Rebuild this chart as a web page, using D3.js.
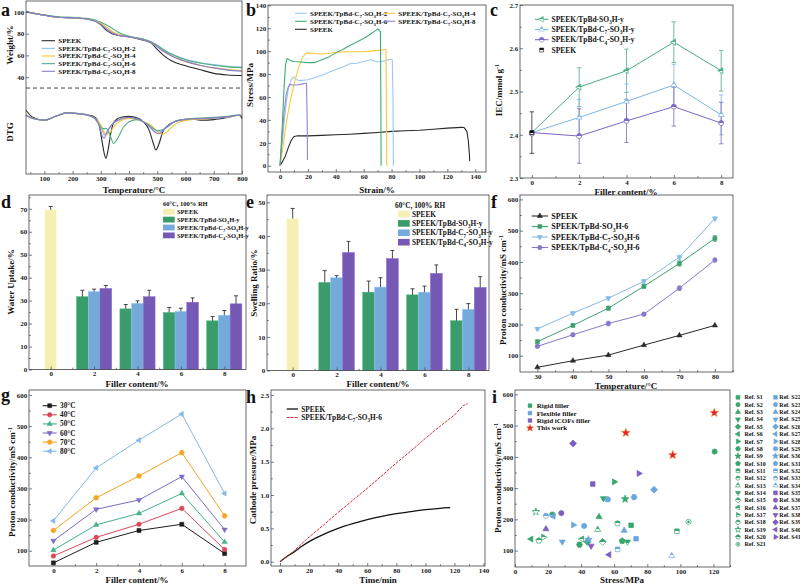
<!DOCTYPE html>
<html><head><meta charset="utf-8">
<script src="https://cdn.jsdelivr.net/npm/d3@7"></script>
<style>body{margin:0;background:#fff}svg{display:block}</style>
</head><body><script>
// ================= DATA =================
// (a) TGA / DTG
const tgaTemp=[35,100,150,200,250,280,300,320,340,360,400,450,480,500,520,550,600,650,700,750,800];
const tgaSPEEK=[100,97,95,94.5,93.5,91.5,88,83,80,78.5,77,74,71,65.5,60.5,55,50.5,47,43.5,42,41.5];
const tgaC7_2=[100,97,95,94.5,93.5,92,89,85,81.5,79.5,77.5,75,72.5,69.5,66,61.5,56.5,53.5,51.5,50,49.3];
const tgaC7_4=[100,97,95,94.5,93.5,92,89.5,86,82,79.5,77,74.5,71.5,68.5,64.5,60,54.5,51,48.5,47,46];
const tgaC7_6=[100,97,95.5,95,94,92.5,90.5,88,85,81.5,77.5,75,72,69,65.5,61,56,53,51,49.5,48.8];
const tgaC7_8=[100,97,95,94.5,93.5,91.5,88.5,84,80.5,78.5,77,74.5,71.5,68,64,59.5,54.5,51,48.5,46.5,45.5];
const dtgTemp=[35,60,100,140,180,220,260,280,295,305,312,318,325,335,345,360,380,400,430,450,470,485,495,505,520,540,560,580,620,660,700,750,790,800];
const dtgSPEEK=[9.6,3,0.5,4,7.2,6.5,5,3,-5,-20,-30,-34.7,-28,-12,-2,2,3.5,4,2.5,-1,-8,-20,-27,-22,-10,-4,-1,0.5,1.5,0.5,1,3,5,2];
const dtgC7_2=[5,2,0.5,4,7.2,6.5,4.5,2,-3,-9,-13,-12,-9,-5,-2,0,1.5,2.5,1.5,-1,-4,-7,-9,-10,-9,-5,-1,0.5,1.5,2,2.5,3.5,5,4];
const dtgC7_4=[5,2,0.5,4,7,6.5,4.5,2,-2,-7,-11,-12.5,-12,-10,-6,-2,1,2,1,-1,-3,-6,-9,-11,-12.5,-9,-4,-1,1,1.5,2.5,3.5,5,4];
const dtgC7_6=[5,2,0.5,4,7.2,6.5,4.5,1.5,-4,-7,-7.5,-7,-9,-15,-21,-16,-6,-1,1,-1,-4,-7,-8.5,-9,-8,-5,-1,0.5,2,2.5,3,4,5.5,4.5];
const dtgC7_8=[5,2,0.5,4,7.2,6.5,4.5,2,-5,-14,-16,-13,-9,-5,-2,0.5,2.5,3,1.5,-1,-5,-9,-11,-12,-9,-4,-1,0.5,1.5,2,2.5,3.5,5,4];
const tgaLabels=["SPEEK","SPEEK/TpBd-C_7-SO_3H-2","SPEEK/TpBd-C_7-SO_3H-4","SPEEK/TpBd-C_7-SO_3H-6","SPEEK/TpBd-C_7-SO_3H-8"];

// (b) stress-strain
const bStrainC7_2=[0,1.5,3,4.5,6,8,9.5,11,13,16,20,25,30,35,40,45,50,55,60,65,70,75,79,80.5,81,81.3];
const bStressC7_2=[0,18,38,55,67,75,77.5,76,74.5,74.5,75,77,79,81.5,84,86,89,89.5,91,92.5,90.5,91.5,93,92.5,60,0];
const bStrainC7_4=[0,2,4,6,8,10,12,14,16,18,20,25,30,35,40,50,60,65,70,75,76,76.3,76.5];
const bStressC7_4=[0,15,33,48,60,71,80,88,94,97.5,98.5,98,97.5,98,99,99.5,99.5,100,100.5,101.5,101.5,50,0];
const bStrainC7_6=[0,1,2,3,4,5,6,8,10,15,20,25,30,35,40,45,50,55,60,65,68,70,71,72,72.3,72.5];
const bStressC7_6=[0,20,45,70,88,93.5,93,91.5,91,90.5,90,90,92.5,95,98.5,101.5,105,108,111,115,117.5,119.5,118.5,117,60,0];
const bStrainC7_8=[0,1.5,3,4.5,6,7,9,12,15,18,19,19.5,19.7];
const bStressC7_8=[0,25,48,62,69,71,70.5,70.5,71,72,72,40,5];
const bStrainSPEEK=[0,2,4,6,8,10,12,20,30,40,50,60,70,80,90,100,110,120,130,132,134,135,135.8,136];
const bStressSPEEK=[0,4,9,16,22,25.5,26,26,26.5,27,27.5,28.2,29,30,30.5,31,31.8,32.8,33.5,33.3,30,22,10,4];

// (c) IEC
const iecFiller=[0,2,4,6,8];
const iecSO3H=[2.405,2.51,2.548,2.614,2.548];
const iecSO3HErr=[0.048,0.045,0.05,0.047,0.047];
const iecC7=[2.405,2.44,2.477,2.515,2.446];
const iecC7Err=[0.048,0.042,0.04,0.048,0.046];
const iecC4=[2.405,2.397,2.432,2.465,2.427];
const iecC4Err=[0.048,0.063,0.05,0.045,0.048];
const iecSPEEK=2.405, iecSPEEKErr=0.048;
const seriesY=["SPEEK/TpBd-SO_3H-y","SPEEK/TpBd-C_7-SO_3H-y","SPEEK/TpBd-C_4-SO_3H-y","SPEEK"];

// (d) water uptake, (e) swelling ratio
const fillerCats=[2,4,6,8];
const wuSPEEK=69.5, wuSPEEKErr=1.5;
const wuSO3H=[31.7,26.4,24.8,21.2], wuSO3HErr=[2.8,1.9,2.2,1.9];
const wuC7=[33.9,28.8,25.3,23.6], wuC7Err=[1.1,1.1,1.4,2.1];
const wuC4=[35.3,31.7,29.3,28.6], wuC4Err=[1.3,2.8,1.9,3.5];
const srSPEEK=45.2, srSPEEKErr=3.0;
const srSO3H=[26.2,23.3,22.5,14.8], srSO3HErr=[3.5,3.3,1.8,3.4];
const srC7=[27.6,24.8,23.3,18.2], srC7Err=[0.6,2.8,1.8,1.7];
const srC4=[35.1,33.3,28.9,24.7], srC4Err=[3.3,2.4,2.5,3.2];

// (f) conductivity vs temperature
const fTemp=[30,40,50,60,70,80];
const fSPEEK=[63,84,102,134,165,197];
const fSO3H6=[145,197,252,322,395,475], fSO3H6Err=[4,5,6,6,8,9];
const fC7_6=[186,236,284,338,415,539], fC7_6Err=[4,5,5,6,6,5];
const fC4_6=[130,167,203,233,316,406], fC4_6Err=[4,5,7,5,7,6];
const fLabels=["SPEEK","SPEEK/TpBd-SO_3H-6","SPEEK/TpBd-C_7-SO_3H-6","SPEEK/TpBd-C_4-SO_3H-6"];

// (g) conductivity vs filler content
const gFiller=[0,2,4,6,8];
const g30=[61,127,165,185,91];
const g40=[83,143,185,236,104];
const g50=[102,183,220,284,128];
const g60=[132,233,263,338,168];
const g70=[165,270,340,415,212];
const g80=[196,366,455,539,284];
const gLabels=["30°C","40°C","50°C","60°C","70°C","80°C"];

// (h) cathode pressure
const hTimeSPEEK=[0,5,10,15,20,30,40,50,60,70,80,90,100,110,117];
const hSPEEK=[0,0.08,0.15,0.23,0.3,0.41,0.5,0.57,0.63,0.68,0.72,0.75,0.78,0.8,0.81];
const hTimeC7=[0,10,20,30,40,50,60,70,80,90,100,110,120,126,129];
const hC7=[0,0.17,0.37,0.55,0.74,0.92,1.1,1.29,1.48,1.66,1.85,2.03,2.2,2.34,2.37];

// (i) comparison
const refStress=[70.2,120.7,50.8,53.5,43.8,9.7,60,39,66.6,64.8,97.9,62,50,68,53,40.4,17.2,22.6,12.6,14.4,104.9,73.2,41.8,66,28.6,84.1,23.2,35.3,72,44.4,56.1,62,18.7,94.8,47,28,18.7,46,35.1,56.9,74.9];
const refCond=[181,417,208,267,128,137,320,119,265,131,162,187,167,128,128,137,143,215,224,132,192,138,179,164,128,295,210,182,271,135,264,104,211,83,313,220,169,115,443,87,347];
const workStress=[67,95.4,120.5];
const workCond=[477,406,541];
const iLegend=["Rigid filler","Flexible filler","Rigid iCOFs filler","This work"];

// ================= DRAWING =================
const svg=d3.select("body").append("svg").attr("width",800).attr("height",584)
  .attr("font-family","'Liberation Serif','Times New Roman',serif").attr("font-weight","bold");
const defs=svg.append("defs");
const FT=7, FTI=9, FL=7;

function halfGrad(id,color){
  const g=defs.append("linearGradient").attr("id",id).attr("x1",0).attr("y1",0).attr("x2",0).attr("y2",1);
  [[0,color],[0.5,color],[0.5,"#fff"],[1,"#fff"]].forEach(([o,c])=>g.append("stop").attr("offset",o).attr("stop-color",c));
  return `url(#${id})`;
}
function rich(t,str,fs){
  const re=/([_^])(?:\{([^}]*)\}|(.))/g; let last=0,cur=0,m;
  const add=(s,off,small)=>{if(!s)return;const ts=t.append("tspan").text(s);const dy=off-cur;if(dy)ts.attr("dy",dy);cur=off;if(small)ts.attr("font-size",fs*0.7);};
  while((m=re.exec(str))){add(str.slice(last,m.index),0,false);add(m[2]!==undefined?m[2]:m[3],m[1]==="_"?fs*0.3:-fs*0.4,true);last=re.lastIndex;}
  add(str.slice(last),0,false);return t;
}
function txt(x,y,str,fs,o={}){
  const t=svg.append("text").attr("x",x).attr("y",y).attr("font-size",fs).attr("fill",o.fill||"#111").attr("text-anchor",o.anchor||"start");
  if(o.rot)t.attr("transform",`rotate(${o.rot},${x},${y})`);
  return rich(t,str,fs);
}
function ytitle(cx,cy,str){txt(cx+FTI*0.35,cy,str,FTI,{anchor:"middle",rot:-90});}
function xtitle(cx,cy,str){txt(cx,cy+FTI*0.35,str,FTI,{anchor:"middle"});}
function letter(x,y,s){txt(x,y,s,18);}

function poly(n,r,a0){const pts=d3.range(n).map(i=>{const a=(a0+i*360/n)*Math.PI/180;return [r*Math.cos(a),r*Math.sin(a)];});return "M"+pts.map(p=>p[0].toFixed(2)+","+p[1].toFixed(2)).join("L")+"Z";}
function starP(r){const pts=d3.range(10).map(i=>{const rr=i%2?r*0.42:r;const a=(-90+i*36)*Math.PI/180;return [rr*Math.cos(a),rr*Math.sin(a)];});return "M"+pts.map(p=>p[0].toFixed(2)+","+p[1].toFixed(2)).join("L")+"Z";}
function shapePath(s,r){
  switch(s){
    case "circle":return `M${r},0A${r},${r} 0 1,1 ${-r},0A${r},${r} 0 1,1 ${r},0Z`;
    case "square":return poly(4,r*1.25,45);
    case "diamond":return poly(4,r*1.35,-90);
    case "triUp":return poly(3,r*1.35,-90);
    case "triDown":return poly(3,r*1.35,90);
    case "triLeft":return poly(3,r*1.35,180);
    case "triRight":return poly(3,r*1.35,0);
    case "hexagon":return poly(6,r*1.15,0);
    case "pentagon":return poly(5,r*1.2,-90);
    case "star":return starP(r*1.55);
  }
}
function mark(parent,shape,cx,cy,r,fill,stroke,sw){
  return parent.append("path").attr("d",shapePath(shape,r)).attr("transform",`translate(${cx},${cy})`)
    .attr("fill",fill).attr("stroke",stroke||"none").attr("stroke-width",sw||0.6);
}
function panel(o){
  const x=d3.scaleLinear().domain(o.xd).range([o.x0,o.x1]);
  const y=d3.scaleLinear().domain(o.yd).range([o.y1,o.y0]);
  const g=svg.append("g");
  const plot=g.append("g");
  const ax=g.append("g").attr("transform",`translate(0,${o.y1})`)
    .call(d3.axisBottom(x).tickValues(o.xt).tickSize(-3).tickPadding(2).tickFormat(o.xf||d3.format("d")));
  const ay=g.append("g").attr("transform",`translate(${o.x0},0)`)
    .call(d3.axisLeft(y).tickValues(o.yt).tickSize(-3).tickPadding(1.8).tickFormat(o.yf||d3.format("d")));
  if(o.xm)g.append("g").attr("transform",`translate(0,${o.y1})`).call(d3.axisBottom(x).tickValues(o.xm).tickSize(-1.8).tickFormat(""));
  if(o.ym)g.append("g").attr("transform",`translate(${o.x0},0)`).call(d3.axisLeft(y).tickValues(o.ym).tickSize(-1.8).tickFormat(""));
  g.selectAll(".domain").remove();
  g.selectAll(".tick line").attr("stroke","#444").attr("stroke-width",0.7);
  g.selectAll("g").attr("font-family",null).attr("font-size",FT);
  g.selectAll(".tick text").attr("fill","#222");
  g.append("rect").attr("x",o.x0).attr("y",o.y0).attr("width",o.x1-o.x0).attr("height",o.y1-o.y0)
    .attr("fill","none").attr("stroke","#444").attr("stroke-width",0.8);
  return {x,y,plot,g};
}
function path(p,xs,ys,color,w,o={}){
  const l=d3.line().x((d,i)=>p.x(xs[i])).y(d=>p.y(d));
  if(o.curve)l.curve(o.curve);
  const e=p.plot.append("path").attr("d",l(ys)).attr("fill","none").attr("stroke",color).attr("stroke-width",w).attr("stroke-linejoin","round");
  if(o.dash)e.attr("stroke-dasharray",o.dash);
  return e;
}
function legLine(x1,x2,y,color,label,fs,o={}){
  const l=svg.append("line").attr("x1",x1).attr("x2",x2).attr("y1",y).attr("y2",y).attr("stroke",color).attr("stroke-width",o.w||1.1);
  if(o.dash)l.attr("stroke-dasharray",o.dash);
  if(o.noline)l.remove();
  if(o.shape)mark(svg,o.shape,(x1+x2)/2,y,o.r||2.3,o.fill||color,o.stroke||color,0.6);
  txt(x2+(o.gap||3.3),y+fs*0.35,label,fs);
}

// ---------- (a) ----------
const cBlack="#2a2a2a", cBlue="#8fc1ea", cOrange="#f7c233", cGreen="#4fb080", cPurple="#8a7bcb";
const pa=panel({x0:26,x1:242,y0:1,y1:174,xd:[35,800],yd:[-49,110],xt:d3.range(100,801,100),yt:[40,60,80,100],xm:d3.range(50,801,100)});
pa.plot.append("line").attr("x1",26).attr("x2",242).attr("y1",pa.y(30)).attr("y2",pa.y(30)).attr("stroke","#444").attr("stroke-width",1).attr("stroke-dasharray","4,3");
const aCols=[cBlack,cBlue,cOrange,cGreen,cPurple];
[tgaSPEEK,tgaC7_2,tgaC7_4,tgaC7_6,tgaC7_8].forEach((s,i)=>path(pa,tgaTemp,s,aCols[i],1.1,{curve:d3.curveMonotoneX}));
[dtgSPEEK,dtgC7_2,dtgC7_4,dtgC7_6,dtgC7_8].forEach((s,i)=>path(pa,dtgTemp,s,aCols[i],1.1,{curve:d3.curveMonotoneX}));
tgaLabels.forEach((lb,i)=>legLine(41.7,55,40.7+i*7.65,aCols[i],lb,FL));
letter(1,16,"a");
xtitle(134,189.5,"Temperature/°C");
ytitle(10,45,"Weight/%");
ytitle(10,132,"DTG");

// ---------- (b) ----------
const bBlue="#9ec8ee", bOrange="#ffc53c", bGreen="#3fae72", bPurple="#9483d2";
const pb=panel({x0:268,x1:486,y0:5,y1:172,xd:[-8.6,147.7],yd:[-5.5,140.3],xt:d3.range(0,141,20),yt:d3.range(0,141,20),xm:d3.range(10,141,20),ym:d3.range(10,141,20)});
path(pb,bStrainSPEEK,bStressSPEEK,cBlack,1.1);
path(pb,bStrainC7_2,bStressC7_2,bBlue,1.1);
path(pb,bStrainC7_4,bStressC7_4,bOrange,1.1);
path(pb,bStrainC7_8,bStressC7_8,bPurple,1.1);
path(pb,bStrainC7_6,bStressC7_6,bGreen,1.1);
legLine(295,306.7,13.3,bBlue,tgaLabels[1],FL);
legLine(383.3,395,13.3,bOrange,tgaLabels[2],FL);
legLine(295,306.7,21.3,bGreen,tgaLabels[3],FL);
legLine(383.3,395,21.3,bPurple,tgaLabels[4],FL);
legLine(295,306.7,29.3,cBlack,"SPEEK",FL);
letter(246,16,"b");
xtitle(377,189.5,"Strain/%");
ytitle(250,85,"Stress/MPa");

// ---------- (c) ----------
const c1="#4aae80", c2="#7db7e4", c3="#7d68c2";
const pc=panel({x0:520,x1:733,y0:5,y1:178,xd:[-0.5,8.5],yd:[2.3,2.7],xt:[0,2,4,6,8],yt:[2.3,2.4,2.5,2.6,2.7],yf:d3.format(".1f"),xm:[1,3,5,7],ym:[2.35,2.45,2.55,2.65]});
function errV(p,xv,v,e,color,cap){
  const xm=p.x(xv);
  p.plot.append("line").attr("x1",xm).attr("x2",xm).attr("y1",p.y(v-e)).attr("y2",p.y(v+e)).attr("stroke",color).attr("stroke-width",0.8);
  [v-e,v+e].forEach(t=>p.plot.append("line").attr("x1",xm-cap).attr("x2",xm+cap).attr("y1",p.y(t)).attr("y2",p.y(t)).attr("stroke",color).attr("stroke-width",0.8));
}
const cSeries=[[iecSO3H,iecSO3HErr,c1,"triLeft","hg1"],[iecC7,iecC7Err,c2,"triUp","hg2"],[iecC4,iecC4Err,c3,"circle","hg3"]];
cSeries.forEach(([v,e,col,sh])=>{iecFiller.forEach((f,i)=>{if(i>0)errV(pc,f,v[i],e[i],col,2.2);});});
errV(pc,0,iecSPEEK,iecSPEEKErr,cBlack,2.2);
cSeries.forEach(([v,e,col,sh,id])=>{
  path(pc,iecFiller,v,col,1);
  const fill=halfGrad(id,col);
  iecFiller.forEach((f,i)=>{if(i>0)mark(pc.plot,sh,pc.x(f),pc.y(v[i]),2.5,fill,col,0.8);});
});
mark(pc.plot,"circle",pc.x(0),pc.y(iecSPEEK)+1,2.5,"#fff",c3,0.8);
mark(pc.plot,"square",pc.x(0),pc.y(iecSPEEK),2.2,halfGrad("hgk","#111"),"#111",0.8);
const cLegFill=[halfGrad("hl1",c1),halfGrad("hl2",c2),halfGrad("hl3",c3)];
cSeries.forEach(([v,e,col,sh],i)=>legLine(535,548.3,19.3+i*10.2,col,seriesY[i],7.5,{shape:sh,fill:cLegFill[i],r:2.4}));
legLine(535,548.3,50,"#111","SPEEK",7.5,{shape:"square",fill:halfGrad("hl4","#111"),noline:true,r:2.2});
letter(490,16,"c");
xtitle(626,191.5,"Filler content/%");
ytitle(499,90,"IEC/mmol g^{-1}");

// ---------- (d) & (e) bars ----------
const barY="#f6efb4", barG="#3a9b6b", barB="#74a9da", barP="#7559b5";
const bw=0.54;
function bar(p,cx,v,e,c){
  const xl=p.x(cx-bw/2), xr=p.x(cx+bw/2);
  p.plot.append("rect").attr("x",xl).attr("y",p.y(v)).attr("width",xr-xl).attr("height",p.y(0)-p.y(v))
    .attr("fill",c).attr("stroke",d3.color(c).brighter(0.5)).attr("stroke-width",0.5);
  const xm=(xl+xr)/2;
  p.plot.append("line").attr("x1",xm).attr("x2",xm).attr("y1",p.y(v)).attr("y2",p.y(v+e)).attr("stroke","#333").attr("stroke-width",0.9);
  p.plot.append("line").attr("x1",xm-2).attr("x2",xm+2).attr("y1",p.y(v+e)).attr("y2",p.y(v+e)).attr("stroke","#333").attr("stroke-width",0.9);
}
function barPanel(p,sv,se,groups){
  bar(p,0,sv,se,barY);
  groups.forEach(([vals,errs,col],gi)=>fillerCats.forEach((f,j)=>bar(p,f+(gi-1)*bw,vals[j],errs[j],col)));
}
const pd=panel({x0:29,x1:246,y0:195,y1:369.5,xd:[-1,9],yd:[0,76],xt:[0,2,4,6,8],yt:d3.range(0,71,10),xm:[1,3,5,7],ym:d3.range(5,76,10)});
barPanel(pd,wuSPEEK,wuSPEEKErr,[[wuSO3H,wuSO3HErr,barG],[wuC7,wuC7Err,barB],[wuC4,wuC4Err,barP]]);
const barLabels=["SPEEK",seriesY[0],seriesY[1],seriesY[2]];
const barCols=[barY,barG,barB,barP];
txt(163,203.3+6.5*0.35,"60°C, 100% RH",6.5);
barLabels.forEach((lb,i)=>{const yc=211.7+i*7.9;svg.append("rect").attr("x",163).attr("y",yc-2.9).attr("width",11.7).attr("height",5.8).attr("fill",barCols[i]);txt(177,yc+6.5*0.35,lb,6.5);});
letter(1,208,"d");
xtitle(137,384,"Filler content/%");
ytitle(11,282,"Water Uptake/%");

const pe=panel({x0:267,x1:489,y0:195,y1:370.5,xd:[-1.17,8.94],yd:[0,52.2],xt:[0,2,4,6,8],yt:d3.range(0,51,10),xm:[1,3,5,7],ym:d3.range(5,51,10)});
barPanel(pe,srSPEEK,srSPEEKErr,[[srSO3H,srSO3HErr,barG],[srC7,srC7Err,barB],[srC4,srC4Err,barP]]);
txt(395,205+7.3*0.35,"60°C, 100% RH",7.3);
barLabels.forEach((lb,i)=>{const yc=214+i*9.4;svg.append("rect").attr("x",398).attr("y",yc-3.3).attr("width",11.7).attr("height",6.6).attr("fill",barCols[i]);txt(412,yc+7.3*0.35,lb,7.3);});
letter(246,208,"e");
xtitle(378,384,"Filler content/%");
ytitle(254,283,"Swelling Ratio/%");

// ---------- (f) ----------
const f1="#3f9f6e", f2="#86bbe6", f3="#8877c9";
const pf=panel({x0:520,x1:733,y0:195,y1:372,xd:[25.1,85.1],yd:[48,614],xt:d3.range(30,81,10),yt:d3.range(100,601,100),xm:d3.range(35,86,10),ym:d3.range(150,601,100)});
const fSets=[[fSPEEK,null,cBlack,"triUp"],[fSO3H6,fSO3H6Err,f1,"square"],[fC7_6,fC7_6Err,f2,"triDown"],[fC4_6,fC4_6Err,f3,"circle"]];
fSets.forEach(([v,e,col,sh])=>{
  path(pf,fTemp,v,col,1);
  fTemp.forEach((t,i)=>{if(e)errV(pf,t,v[i],e[i],col,1.8);mark(pf.plot,sh,pf.x(t),pf.y(v[i]),2.3,col,col,0.5);});
});
fSets.forEach(([v,e,col,sh],i)=>legLine(531.7,548,216+i*10.5,col,fLabels[i],8,{shape:sh,r:2.2}));
letter(491,208,"f");
xtitle(626,385.5,"Temperature/°C");
ytitle(503,290,"Proton conductivity/mS cm^{-1}");

// ---------- (g) ----------
const gCols=["#1c1c1c","#d94759","#45b08a","#7c6cc4","#f5a623","#83b9e4"];
const gShapes=["square","circle","triUp","triDown","hexagon","triLeft"];
const pg=panel({x0:29,x1:246,y0:390,y1:566,xd:[-1.14,9],yd:[51,616],xt:[0,2,4,6,8],yt:d3.range(100,601,100),xm:[1,3,5,7],ym:d3.range(150,601,100)});
[g30,g40,g50,g60,g70,g80].forEach((v,k)=>{
  path(pg,gFiller,v,gCols[k],1);
  gFiller.forEach((f,i)=>mark(pg.plot,gShapes[k],pg.x(f),pg.y(v[i]),2.3,gCols[k],gCols[k],0.5));
});
gLabels.forEach((lb,k)=>legLine(42.7,56.7,405.7+k*9.1,gCols[k],lb,7.3,{shape:gShapes[k],r:2.2}));
letter(1,401,"g");
xtitle(137,579.5,"Filler content/%");
ytitle(12,482,"Proton conductivity/mS cm^{-1}");

// ---------- (h) ----------
const hRed="#e0303a";
const ph=panel({x0:271,x1:485,y0:390,y1:566,xd:[-6.2,141],yd:[-0.065,2.575],xt:d3.range(0,141,20),yt:[0,0.5,1,1.5,2,2.5],yf:d3.format(".1f"),xm:d3.range(10,141,20),ym:[0.25,0.75,1.25,1.75,2.25]});
path(ph,hTimeSPEEK,hSPEEK,"#111",1.3,{curve:d3.curveMonotoneX});
path(ph,hTimeC7,hC7,hRed,1,{dash:"3,1"});
legLine(286.7,298,409,"#111","SPEEK",7.3,{w:1.3});
legLine(286.7,298,417.5,hRed,"SPEEK/TpBd-C_7-SO_3H-6",7.3,{w:1,dash:"3,1"});
letter(246,403,"h");
xtitle(378,579.5,"Time/min");
ytitle(253,480,"Cathode pressure/MPa");

// ---------- (i) ----------
const iG="#38a56c", iB="#6aa7dd", iP="#7b5fc0", iR="#e41f2b";
const pi=panel({x0:515,x1:730,y0:390,y1:567,xd:[0,130],yd:[47.5,614],xt:d3.range(0,121,20),yt:d3.range(100,601,100),xm:d3.range(10,131,20),ym:d3.range(150,601,100)});
const baseShapes=["square","circle","triUp","triDown","diamond","triLeft","triRight","hexagon","star","pentagon"];
const hG=halfGrad("hiG",iG), hB=halfGrad("hiB",iB);
function refStyle(k){
  if(k<10)return {s:baseShapes[k],f:iG,c:iG};
  if(k<20)return {s:baseShapes[k-10],f:hG,c:iG};
  if(k===20)return {s:"circle",f:"#fff",c:iG,dot:true};
  if(k<31)return {s:baseShapes[k-21],f:iB,c:iB};
  if(k<34)return {s:baseShapes[k-31],f:hB,c:iB};
  return {s:baseShapes[k-34],f:iP,c:iP};
}
function refMark(parent,k,cx,cy,r){
  const st=refStyle(k);
  mark(parent,st.s,cx,cy,r,st.f,st.c,0.7);
  if(st.dot){mark(parent,"circle",cx,cy,r*0.45,st.c,st.c,0.3);}
}
refStress.forEach((s,k)=>refMark(pi.plot,k,pi.x(s),pi.y(refCond[k]),2.6));
workStress.forEach((s,k)=>mark(pi.plot,"star",pi.x(s),pi.y(workCond[k]),3,iR,"#f2a13a",0.5));
[iG,iB,iP].forEach((c,i)=>{mark(svg,"square",530,405.7+i*7.4,2.2,c,c,0.4);txt(536.7,405.7+i*7.4+7*0.35,iLegend[i],7);});
mark(svg,"star",530,428,2.6,iR,"#f2a13a",0.4);txt(536.7,428+7*0.35,iLegend[3],7);
refStress.forEach((s,k)=>{
  const col=k<21?0:1, row=k<21?k:k-21;
  const yc=397.3+row*7.35;
  refMark(svg,k,col?775.5:738,yc,2.1);
  txt(col?779.3:744.5,yc+6*0.35,"Ref. S"+(k+1),6);
});
letter(492,403,"i");
xtitle(622,579.5,"Stress/MPa");
ytitle(498,478,"Proton conductivity/mS cm^{-1}");
</script></body></html>
